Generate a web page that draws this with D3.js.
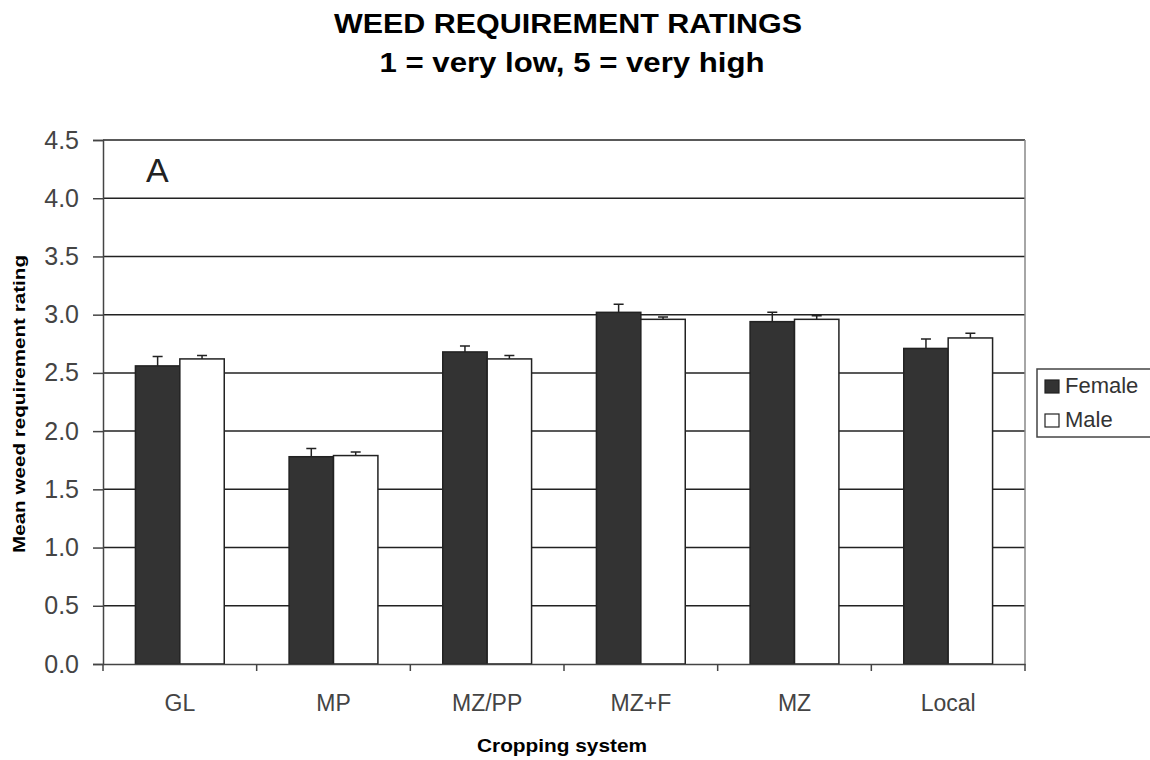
<!DOCTYPE html>
<html>
<head>
<meta charset="utf-8">
<script src="https://cdn.jsdelivr.net/npm/d3@7"></script>
<style>
  body { margin: 0; background: #fff; }
  svg { font-family: "Liberation Sans", Arial, sans-serif; }
</style>
</head>
<body>
<div id="chart"></div>
<script>
const W = 1150, H = 760;
const margin = { top: 140, right: 125, bottom: 96, left: 103 };

const categories = ["GL", "MP", "MZ/PP", "MZ+F", "MZ", "Local"];
const seriesNames = ["Female", "Male"];
const femaleVals = [2.56, 1.78, 2.68, 3.02, 2.94, 2.71];
const maleVals   = [2.62, 1.79, 2.62, 2.96, 2.96, 2.80];
const femaleErr  = [0.08, 0.07, 0.05, 0.07, 0.08, 0.08];
const maleErr    = [0.03, 0.03, 0.03, 0.02, 0.03, 0.04];
const yTicks = [0, 0.5, 1.0, 1.5, 2.0, 2.5, 3.0, 3.5, 4.0, 4.5];

const colors = { Female: "#333333", Male: "#ffffff" };

const rows = categories.map((c, i) => ({
  cat: c,
  vals: [
    { s: "Female", v: femaleVals[i], e: femaleErr[i] },
    { s: "Male", v: maleVals[i], e: maleErr[i] }
  ]
}));

const svg = d3.select("#chart").append("svg")
  .attr("width", W).attr("height", H);

const x = d3.scaleBand()
  .domain(categories)
  .range([margin.left, W - margin.right]);

const xInner = d3.scaleBand()
  .domain(seriesNames)
  .range([0, x.bandwidth()])
  .paddingOuter(0.73)
  .paddingInner(0);

const y = d3.scaleLinear()
  .domain([0, 4.5])
  .range([H - margin.bottom, margin.top]);

// titles (the source image is stretched a bit sideways)
svg.append("text")
  .attr("x", 568).attr("y", 33)
  .attr("text-anchor", "middle")
  .attr("font-weight", "bold").attr("font-size", 27)
  .attr("textLength", 468).attr("lengthAdjust", "spacingAndGlyphs")
  .text("WEED REQUIREMENT RATINGS");
svg.append("text")
  .attr("x", 572).attr("y", 72)
  .attr("text-anchor", "middle")
  .attr("font-weight", "bold").attr("font-size", 27)
  .attr("textLength", 385).attr("lengthAdjust", "spacingAndGlyphs")
  .text("1 = very low, 5 = very high");

// gridlines
svg.append("g")
  .selectAll("line")
  .data(yTicks.filter(t => t > 0))
  .join("line")
  .attr("x1", margin.left).attr("x2", W - margin.right)
  .attr("y1", d => y(d)).attr("y2", d => y(d))
  .attr("stroke", "#222").attr("stroke-width", 1.5);

// right border of plot area
svg.append("line")
  .attr("x1", W - margin.right).attr("x2", W - margin.right)
  .attr("y1", margin.top).attr("y2", H - margin.bottom)
  .attr("stroke", "#888").attr("stroke-width", 1.5);

// bars
const groups = svg.append("g").selectAll("g")
  .data(rows)
  .join("g")
  .attr("transform", d => `translate(${x(d.cat)},0)`);

groups.selectAll("rect")
  .data(d => d.vals)
  .join("rect")
  .attr("x", d => xInner(d.s))
  .attr("y", d => y(d.v))
  .attr("width", xInner.bandwidth())
  .attr("height", d => y(0) - y(d.v))
  .attr("fill", d => colors[d.s])
  .attr("stroke", "#222").attr("stroke-width", 1.5);

// error bars (plus only)
groups.selectAll("path.err")
  .data(d => d.vals)
  .join("path")
  .attr("class", "err")
  .attr("d", d => {
    const cx = xInner(d.s) + xInner.bandwidth() / 2;
    const y0 = y(d.v), y1 = y(d.v + d.e);
    return `M${cx},${y0}V${y1}M${cx - 5},${y1}H${cx + 5}`;
  })
  .attr("fill", "none").attr("stroke", "#222").attr("stroke-width", 1.5);

// axes
svg.append("g")
  .attr("transform", `translate(0,${H - margin.bottom})`)
  .call(d3.axisBottom(x).tickSize(0).tickPadding(31))
  .call(g => g.select(".domain").attr("stroke", "#444").attr("stroke-width", 1.5))
  .call(g => g.selectAll("text").attr("font-size", 23).attr("fill", "#444")
    .attr("font-family", "Liberation Sans, Arial, sans-serif"));

// category separator ticks
svg.append("g")
  .selectAll("line")
  .data(categories.concat([null]))
  .join("line")
  .attr("x1", (d, i) => margin.left + i * x.bandwidth())
  .attr("x2", (d, i) => margin.left + i * x.bandwidth())
  .attr("y1", H - margin.bottom).attr("y2", H - margin.bottom + 7)
  .attr("stroke", "#444").attr("stroke-width", 1.5);

svg.append("g")
  .attr("transform", `translate(${margin.left},0)`)
  .call(d3.axisLeft(y).tickValues(yTicks).tickFormat(d3.format(".1f")).tickSize(10).tickPadding(14))
  .call(g => g.select(".domain").attr("stroke", "#444").attr("stroke-width", 1.5))
  .call(g => g.selectAll(".tick line").attr("stroke", "#444").attr("stroke-width", 1.5))
  .call(g => g.selectAll("text").attr("font-size", 25).attr("fill", "#444")
    .attr("font-family", "Liberation Sans, Arial, sans-serif"));

// axis titles
svg.append("text")
  .attr("x", 562).attr("y", 752)
  .attr("text-anchor", "middle")
  .attr("font-weight", "bold").attr("font-size", 19)
  .attr("textLength", 170).attr("lengthAdjust", "spacingAndGlyphs")
  .text("Cropping system");

svg.append("text")
  .attr("transform", `translate(25,404) rotate(-90)`)
  .attr("text-anchor", "middle")
  .attr("font-weight", "bold").attr("font-size", 17)
  .attr("textLength", 298).attr("lengthAdjust", "spacingAndGlyphs")
  .text("Mean weed requirement rating");

// panel letter
svg.append("text")
  .attr("x", 146).attr("y", 182)
  .attr("font-size", 34).attr("fill", "#222")
  .text("A");

// legend
const lg = svg.append("g").attr("transform", "translate(1037,369)");
lg.append("rect")
  .attr("width", 120).attr("height", 68)
  .attr("fill", "#fff").attr("stroke", "#444").attr("stroke-width", 1.5);
const li = lg.selectAll("g.item")
  .data(seriesNames)
  .join("g")
  .attr("class", "item")
  .attr("transform", (d, i) => `translate(8,${11 + i * 34})`);
li.append("rect")
  .attr("width", 14).attr("height", 13)
  .attr("fill", d => colors[d]).attr("stroke", "#222").attr("stroke-width", 1.2);
li.append("text")
  .attr("x", 20).attr("y", 13)
  .attr("font-size", 22).attr("fill", "#333")
  .text(d => d);
</script>
</body>
</html>
